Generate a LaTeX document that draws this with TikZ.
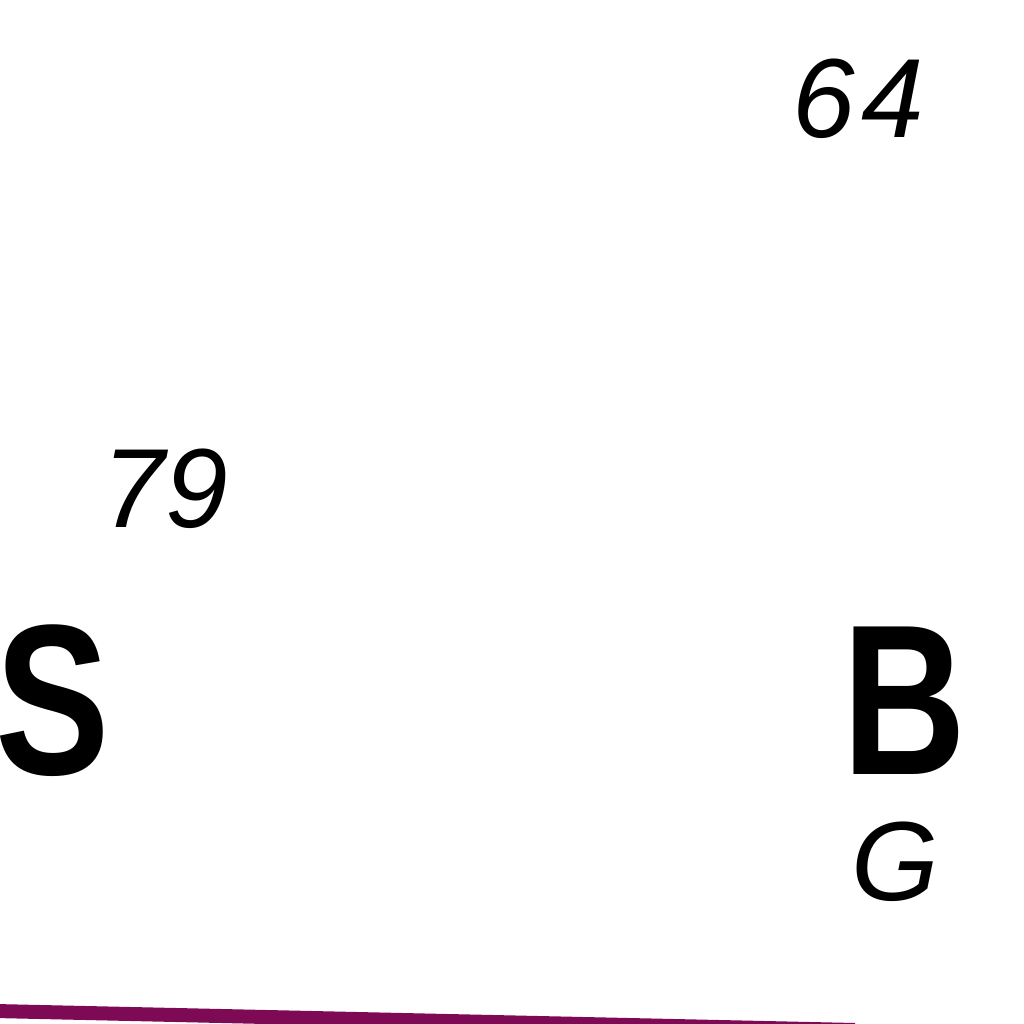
\documentclass[tikz,border=0pt]{standalone}
\usepackage{fontspec}
\usepackage{graphicx}
\setmainfont{Liberation Sans}
\definecolor{linepurple}{RGB}{126,10,86}
\newcommand{\narrowbold}[1]{\scalebox{0.8}[1]{#1}}
\tikzset{
  bigsym/.style={inner sep=0pt, anchor=base west, font=\fontsize{61}{61}\selectfont\bfseries},
  smalllab/.style={inner sep=0pt, anchor=base west, font=\fontsize{32}{32}\selectfont\itshape},
  baseline/.style={draw=linepurple, line width=0.14cm, line cap=butt}
}
\begin{document}
\begin{tikzpicture}[x=0.01cm,y=-0.01cm]
\useasboundingbox (0,0) rectangle (1024,1024);
\clip (0,0) rectangle (1024,1024);
\fill[white] (0,0) rectangle (1024,1024);
\node[smalllab] (mass) at (792,137) {6\kern0.06em4};
\node[smalllab] (num) at (102,527) {79};
\node[bigsym] (sym) at (-5,774) {\narrowbold{S}};
\node[bigsym] (symB) at (842,774) {\narrowbold{B}};
\node[smalllab] (grp) at (851,900) {G};
\coordinate (l1) at (-5,1011);
\coordinate (l2) at (855,1030);
\draw[baseline] (l1) -- (l2);
\end{tikzpicture}
\end{document}
